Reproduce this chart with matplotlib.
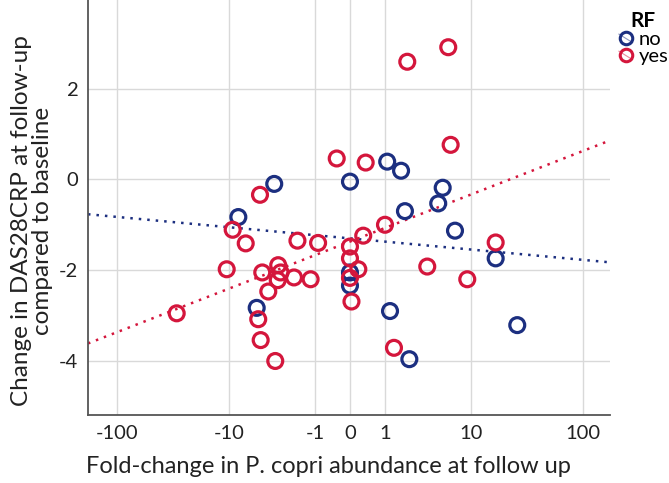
import numpy as np
import matplotlib
matplotlib.use("Agg")
import matplotlib.pyplot as plt
from matplotlib.lines import Line2D
from matplotlib.legend_handler import HandlerBase

# fold-change (x) and change in DAS28CRP (y), by RF status
no_fold = [-3.48, 0.0, 1.09, 1.75, 5.27, 4.74, 1.97, 7.0, -8.12, 16.9,
           0.0, 0.0, -5.34, 1.21, 26.45, 2.24]
no_das = [-0.10, -0.05, 0.39, 0.19, -0.185, -0.53, -0.70, -1.13, -0.83, -1.74,
          -2.05, -2.34, -2.83, -2.90, -3.21, -3.96]

yes_fold = [-0.30, 0.365, 2.11, 6.0, 6.34, -4.94, 1.0, 0.30, 16.9, -9.2,
            -6.88, -1.83, -0.88, 0.0, 0.0, 0.18, 0.0, 0.03, 3.62, 9.2,
            -10.48, -4.68, -3.14, -2.95, -3.18, -2.03, -1.18, -4.04, -5.15, -4.86,
            -3.39, -29.9, 1.39]
yes_das = [0.46, 0.37, 2.59, 2.91, 0.76, -0.34, -1.00, -1.24, -1.39, -1.11,
           -1.41, -1.35, -1.40, -1.48, -1.74, -1.98, -2.17, -2.69, -1.92, -2.20,
           -1.98, -2.05, -1.89, -2.05, -2.22, -2.16, -2.20, -2.47, -3.08, -3.54,
           -4.00, -2.95, -3.71]

# fit lines (intercept, slope) on the transformed x axis
no_fit = (-1.30, -0.236)
yes_fit = (-1.37, 0.996)

xticks = [-100, -10, -1, 0, 1, 10, 100]
yticks = [-4, -2, 0, 2]

BLUE = '#1c2f80'
RED = '#d4163c'


def fwd(x):
    x = np.asarray(x, dtype=float)
    return np.sign(x) * np.log10(1 + np.abs(x))


def inv(t):
    t = np.asarray(t, dtype=float)
    return np.sign(t) * (10 ** np.abs(t) - 1)


class CircleWithFit(HandlerBase):
    # open circle with a faint diagonal fit line, like the SPSS legend
    def create_artists(self, legend, orig, xd, yd, width, height, fontsize, trans):
        c = orig.get_markeredgecolor()
        cx, cy = xd + width / 2, yd + height / 2
        ln = Line2D([cx - 0.45 * width, cx + 0.45 * width],
                    [cy + 0.3 * height, cy - 0.3 * height],
                    color=c, lw=0.8, alpha=0.5, transform=trans)
        mk = Line2D([cx], [cy], marker='o', ls='none', mfc='none', mec=c,
                    mew=2.2, ms=9, transform=trans)
        return [ln, mk]


plt.rcParams['font.family'] = ['Lato', 'DejaVu Sans']

fig = plt.figure(figsize=(6.69, 4.83), dpi=100)
ax = fig.add_axes([0.1315, 0.1398, 0.7803, 0.8602])
ax.set_xscale('function', functions=(fwd, inv))

tlo, thi = -2.253, 2.236
ax.set_xlim(inv(tlo), inv(thi))
ax.set_ylim(-5.2, 3.95)

# fit lines
tt = np.linspace(tlo, thi, 200)
for (a, b), c in [(no_fit, BLUE), (yes_fit, RED)]:
    ax.plot(inv(tt), a + b * tt, color=c, lw=1.8, linestyle=(0, (1, 2.4)),
            zorder=2)

ax.scatter(no_fold, no_das, s=115, facecolors='none', edgecolors=BLUE,
           linewidths=2.3, zorder=3)
ax.scatter(yes_fold, yes_das, s=115, facecolors='none', edgecolors=RED,
           linewidths=2.3, zorder=4)

ax.set_xticks(xticks)
ax.set_xticklabels([str(v) for v in xticks])
ax.set_yticks(yticks)
ax.set_yticklabels([str(v) for v in yticks])
ax.tick_params(length=0, labelsize=14.5, colors='#222222', pad=7)
ax.grid(True, color='#d9d9d9', lw=1.0)
ax.set_axisbelow(True)
for s in ['top', 'right']:
    ax.spines[s].set_visible(False)
for s in ['left', 'bottom']:
    ax.spines[s].set_color('#555555')
    ax.spines[s].set_linewidth(1.3)

ax.set_xlabel('Fold-change in P. copri abundance at follow up', fontsize=17,
              labelpad=10, color='#222222')
ax.xaxis.label.set_x(0.46)
ax.set_ylabel('Change in DAS28CRP at follow-up\ncompared to baseline',
              fontsize=17.5, labelpad=4, color='#222222', linespacing=1.05)
ax.yaxis.label.set_y(0.468)

handles = [Line2D([], [], marker='o', ls='none', mfc='none', mec=BLUE),
           Line2D([], [], marker='o', ls='none', mfc='none', mec=RED)]
leg = fig.legend(handles, ['no', 'yes'], title='RF', loc='upper left',
                 bbox_to_anchor=(0.918, 0.985), frameon=False, fontsize=14.5,
                 title_fontproperties={'weight': 'bold', 'size': 15},
                 handler_map={Line2D: CircleWithFit()},
                 handletextpad=0.25, handlelength=0.75, labelspacing=0.0,
                 borderaxespad=0.1, borderpad=0.1)

fig.savefig('out.png', dpi=100)
